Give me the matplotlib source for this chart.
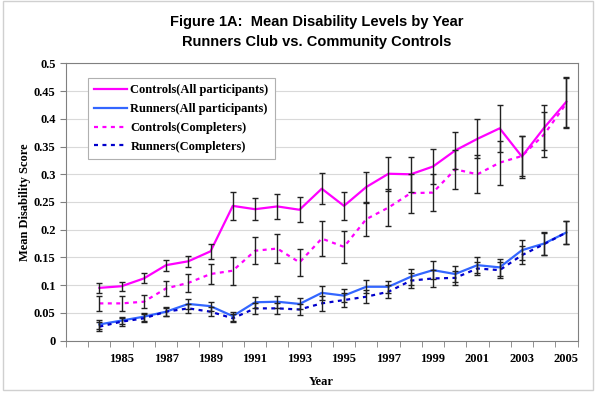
import matplotlib
import numpy as np

matplotlib.use("Agg")
import matplotlib.pyplot as plt
from matplotlib.patches import Rectangle
from matplotlib.ticker import FuncFormatter

years = list(range(1984, 2006))

ctrl_all = [0.095, 0.098, 0.112, 0.136, 0.143, 0.161, 0.243, 0.237, 0.242, 0.236, 0.274,
            0.243, 0.277, 0.301, 0.300, 0.314, 0.343, 0.364, 0.383, 0.332, 0.384, 0.431]
ctrl_all_err = [0.009, 0.008, 0.009, 0.010, 0.010, 0.014, 0.025, 0.020, 0.022, 0.023, 0.028,
                0.025, 0.028, 0.031, 0.032, 0.031, 0.033, 0.035, 0.042, 0.038, 0.041, 0.045]

run_all = [0.029, 0.036, 0.043, 0.052, 0.066, 0.062, 0.044, 0.069, 0.070, 0.066, 0.086,
           0.081, 0.097, 0.097, 0.115, 0.127, 0.120, 0.136, 0.132, 0.163, 0.175, 0.195]
run_all_err = [0.008, 0.007, 0.007, 0.008, 0.009, 0.008, 0.008, 0.010, 0.011, 0.010, 0.013,
               0.012, 0.012, 0.011, 0.014, 0.016, 0.014, 0.014, 0.015, 0.018, 0.020, 0.020]

ctrl_comp = [0.067, 0.067, 0.070, 0.094, 0.104, 0.120, 0.126, 0.162, 0.166, 0.141, 0.184,
             0.169, 0.219, 0.240, 0.266, 0.267, 0.309, 0.300, 0.321, 0.333, 0.372, 0.428]
ctrl_comp_err = [0.013, 0.013, 0.012, 0.014, 0.016, 0.018, 0.025, 0.024, 0.027, 0.024, 0.031,
                 0.029, 0.031, 0.034, 0.035, 0.034, 0.035, 0.034, 0.040, 0.036, 0.040, 0.045]

run_comp = [0.025, 0.034, 0.040, 0.052, 0.058, 0.052, 0.040, 0.058, 0.058, 0.056, 0.067,
            0.073, 0.079, 0.088, 0.108, 0.112, 0.113, 0.130, 0.127, 0.154, 0.174, 0.195]
run_comp_err = [0.008, 0.007, 0.007, 0.007, 0.008, 0.008, 0.007, 0.010, 0.010, 0.010, 0.014,
                0.012, 0.012, 0.012, 0.014, 0.015, 0.012, 0.012, 0.014, 0.016, 0.020, 0.020]

label_years = list(range(1985, 2006, 2))
y_ticks = [0, 0.05, 0.1, 0.15, 0.2, 0.25, 0.3, 0.35, 0.4, 0.45, 0.5]

SERIF = ["Liberation Serif", "DejaVu Serif"]
dot = (0, (1.8, 2.0))

fig = plt.figure(figsize=(5.98, 3.94), dpi=100)
ax = fig.add_axes([66 / 598, 1 - 340.5 / 394, 511.5 / 598, 277 / 394])

series = [
    ("Controls(All participants)", ctrl_all, ctrl_all_err, "#FF00FF", "-"),
    ("Runners(All participants)", run_all, run_all_err, "#3366FF", "-"),
    ("Controls(Completers)", ctrl_comp, ctrl_comp_err, "#FF00FF", dot),
    ("Runners(Completers)", run_comp, run_comp_err, "#0000CC", dot),
]

for label, vals, err, color, ls in series:
    ax.plot(years, vals, color=color, linestyle=ls, linewidth=1.6, label=label, zorder=2)
    ax.errorbar(years, vals, yerr=err, fmt="none", ecolor="#222222", elinewidth=1,
                capsize=2.5, capthick=1, zorder=3)

ax.set_xlim(1982.5, 2005.5)
ax.set_ylim(0, 0.5)
ax.set_yticks(y_ticks)
ax.yaxis.set_major_formatter(FuncFormatter(lambda v, p: f"{v:g}"))
ax.set_xticks(label_years)
ax.set_xticks(np.arange(1982.5, 2006, 1), minor=True)
ax.tick_params(axis="x", which="major", length=0, pad=9)
ax.tick_params(axis="x", which="minor", length=4, direction="out", color="#808080")
ax.tick_params(axis="y", length=4, direction="out", color="#808080")
for lab in ax.get_xticklabels() + ax.get_yticklabels():
    lab.set_fontfamily(SERIF)
    lab.set_fontweight("bold")
    lab.set_fontsize(9)

ax.grid(axis="y", color="#D9D9D9", linewidth=0.8)
ax.set_axisbelow(True)
for sp in ax.spines.values():
    sp.set_color("#808080")
    sp.set_linewidth(0.8)

ax.set_xlabel("Year", family=SERIF, fontweight="bold", fontsize=9, labelpad=8)
ax.set_ylabel("Mean Disability Score", family=SERIF, fontweight="bold", fontsize=9, labelpad=2)

leg = ax.legend(loc="upper left", bbox_to_anchor=(0.043, 0.948), borderaxespad=0,
                prop={"family": SERIF, "weight": "bold", "size": 9},
                handlelength=2.6, handletextpad=0.3, labelspacing=0.55,
                fancybox=False, framealpha=1, edgecolor="#B0B0B0", borderpad=0.5)
leg.get_frame().set_linewidth(0.8)

fig.text(0.53, 1 - 22 / 394, "Figure 1A:  Mean Disability Levels by Year",
         ha="center", va="center", family=["Liberation Sans", "DejaVu Sans"],
         fontweight="bold", fontsize=10.5)
fig.text(0.53, 1 - 42 / 394, "Runners Club vs. Community Controls",
         ha="center", va="center", family=["Liberation Sans", "DejaVu Sans"],
         fontweight="bold", fontsize=10.5)

fig.patches.append(Rectangle((3 / 598, 4 / 394), 590 / 598, 389 / 394,
                             transform=fig.transFigure, fill=False,
                             edgecolor="#D0D0D0", linewidth=1))

fig.savefig("out.png", dpi=100)
